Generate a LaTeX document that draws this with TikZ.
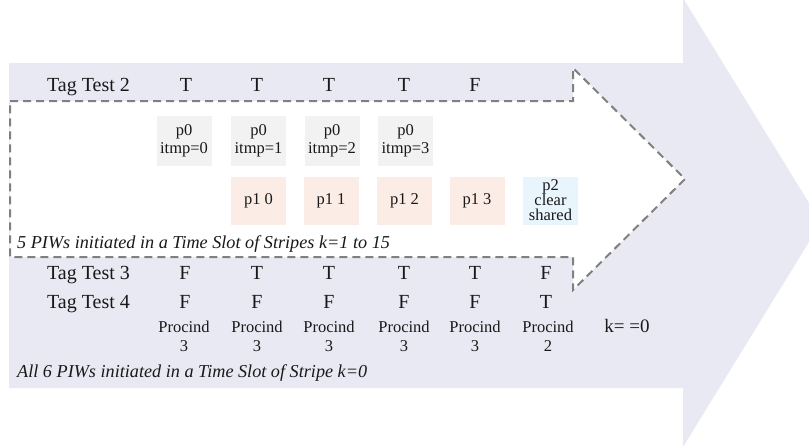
\documentclass[tikz,border=0pt]{standalone}
\usepackage{fontspec}
\setmainfont{Liberation Serif}
\definecolor{lav}{RGB}{233,233,243}
\definecolor{ink}{RGB}{25,25,25}
\definecolor{dashgray}{RGB}{128,128,128}
\definecolor{tilegray}{RGB}{242,242,242}
\definecolor{tilepink}{RGB}{252,236,230}
\definecolor{tileblue}{RGB}{233,245,252}
\begin{document}
\begin{tikzpicture}[x=1pt,y=-1pt,
  big/.style={font=\fontsize{20}{24}\selectfont, text=ink, inner sep=0pt, anchor=base},
  note/.style={font=\fontsize{18.2}{22}\selectfont\itshape, text=ink, inner sep=0pt, anchor=base west},
  tiny/.style={font=\fontsize{16.5}{19}\selectfont, text=ink, inner sep=0pt, align=center},
  tile/.style={minimum width=55pt, minimum height=50pt, inner sep=0pt, align=center,
    font=\fontsize{16.5}{18}\selectfont, text=ink},
  graytile/.style={tile, fill=tilegray},
  pinktile/.style={tile, fill=tilepink, minimum height=48pt},
  bluetile/.style={tile, fill=tileblue, minimum height=48pt, font=\fontsize{16.5}{15}\selectfont},
  zone/.style={fill=white, draw=dashgray, line width=2pt, dash pattern=on 8pt off 5pt}]
\useasboundingbox (0,0) rectangle (809,445);
\begin{scope}
  \clip (0,0) rectangle (809,445);
  % outer block arrow
  \fill[lav] (9,63) -- (683,63) -- (683,-2) -- (821,222.5) -- (683,447)
    -- (683,388) -- (9,388) -- cycle;
\end{scope}
% inner dashed arrow for stripes k=1..15
\draw[zone] (10,101) -- (573,101) -- (573,68) -- (685,179) -- (573,290)
  -- (573,257) -- (10,257) -- cycle;

% row labels
\node[big] (tt2) at (88.5,91.5) {Tag Test 2};
\node[big] (tt3) at (88.5,279) {Tag Test 3};
\node[big] (tt4) at (88.5,308) {Tag Test 4};

% Tag Test 2 values
\foreach \x/\v [count=\i] in {186/T,257/T,329/T,404/T,475/F}
  \node[big] (a\i) at (\x,91.5) {\v};

% Tag Test 3 values
\foreach \x/\v [count=\i] in {185/F,257/T,329/T,404/T,475/T,546/F}
  \node[big] (b\i) at (\x,279) {\v};

% Tag Test 4 values
\foreach \x/\v [count=\i] in {185/F,257/F,329/F,404/F,475/F,546/T}
  \node[big] (c\i) at (\x,308) {\v};

% p0 tiles
\foreach \x/\k [count=\i] in {184/0,258.5/1,332/2,405.5/3}
  \node[graytile] (p0\i) at (\x,140.5) {p0\\itmp=\k};

% p1 tiles
\foreach \x/\k [count=\i] in {258.5/0,331/1,404.5/2,477/3}
  \node[pinktile] (p1\i) at (\x,201) {p1 \k};

\node[bluetile] (p2) at (550.5,200.5) {p2\\clear\\shared};

% procedure indices
\foreach \x/\k [count=\i] in {184/3,257/3,329/3,404/3,475/3,548/2}
  \node[tiny] (pi\i) at (\x,336.5) {Procind\\\k};

\node[font=\fontsize{19}{22}\selectfont, text=ink, inner sep=0pt, anchor=base] (kz) at (627,332) {k= =0};

% captions
\node[note] (cap1) at (17,248) {5 PIWs initiated in a Time Slot of Stripes k=1 to 15};
\node[note] (cap2) at (17,377) {All 6 PIWs initiated in a Time Slot of Stripe k=0};
\end{tikzpicture}
\end{document}
